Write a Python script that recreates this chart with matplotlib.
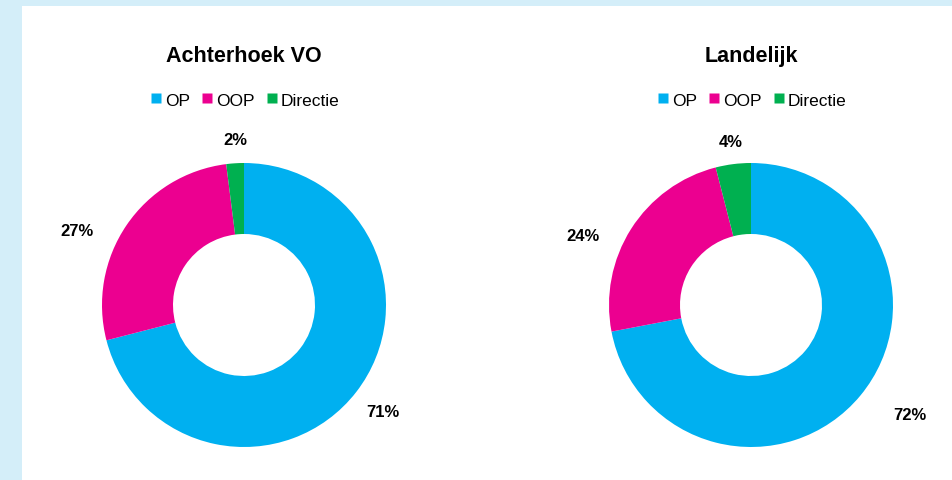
import numpy as np
import matplotlib.pyplot as plt
from matplotlib.patches import Rectangle
from matplotlib.lines import Line2D

plt.rcParams['font.family'] = ['Liberation Sans', 'DejaVu Sans']

categories = ["OP", "OOP", "Directie"]
colors = ["#00B0F0", "#EC0090", "#00B050"]
titles = ["Achterhoek VO", "Landelijk"]
values = {
    "Achterhoek VO": [71, 27, 2],
    "Landelijk": [72, 24, 4],
}

# label placement (angle in degrees, distance in radii), like Excel put them
label_pos = {
    "Achterhoek VO": [(-37.5, 1.23), (156, 1.29), (93, 1.17)],
    "Landelijk": [(-34.5, 1.36), (157.5, 1.28), (97, 1.16)],
}

W, H = 953, 481
fig = plt.figure(figsize=(W / 100, H / 100), dpi=100)
fig.patch.set_facecolor("#D4EEF9")
# white panel
fig.patches.append(Rectangle((22 / W, 0), 1, 1 - 7 / H, transform=fig.transFigure,
                             facecolor="white", edgecolor="none", zorder=-10))

centers = [244, 751]
cy, r = 306, 142

for cx, title in zip(centers, titles):
    ax = fig.add_axes([(cx - r) / W, (H - cy - r) / H, 2 * r / W, 2 * r / H])
    ax.set_facecolor("none")
    vals = values[title]
    ax.pie(vals, colors=colors, startangle=90, counterclock=False,
           wedgeprops=dict(width=0.5, edgecolor="none"))
    for v, (ang, d) in zip(vals, label_pos[title]):
        a = np.radians(ang)
        ax.text(d * np.cos(a), d * np.sin(a), f"{v}%", ha="center", va="center",
                fontsize=12, fontweight="bold", color="black", clip_on=False)
    ax.set_xlim(-1, 1)
    ax.set_ylim(-1, 1)
    ax.set_aspect("equal")

    fig.text(cx / W, 1 - 57 / H, title, ha="center", va="center",
             fontsize=15.5, fontweight="bold")
    handles = [Line2D([], [], marker="s", linestyle="none", markersize=7.5,
                      markerfacecolor=c, markeredgecolor="none") for c in colors]
    fig.legend(handles, categories, loc="center", bbox_to_anchor=(cx / W, 1 - 101 / H),
               ncol=3, frameon=False, fontsize=12.5, handletextpad=0.1,
               columnspacing=0.6, handlelength=0.8)

fig.savefig("out.png", dpi=100)
